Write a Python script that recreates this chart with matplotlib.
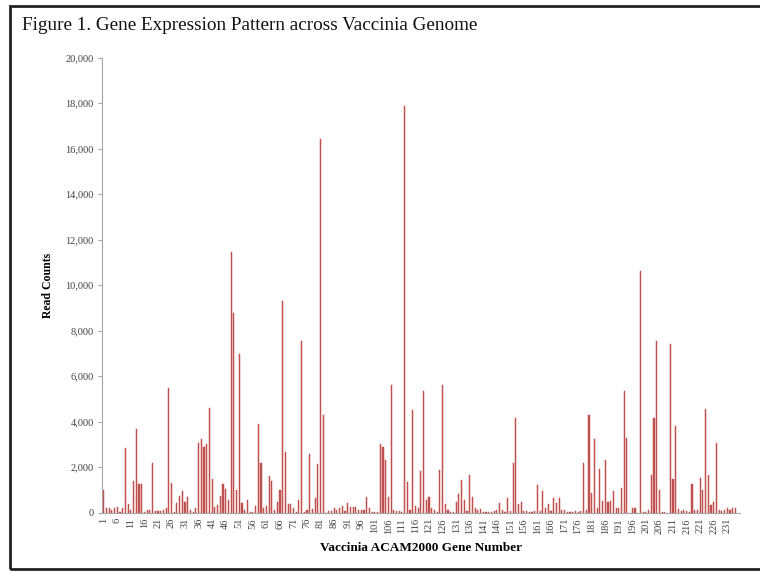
import numpy as np
import matplotlib
matplotlib.use('Agg')
import matplotlib.pyplot as plt
from matplotlib.patches import Rectangle
from matplotlib.ticker import FuncFormatter

plt.rcParams['font.family'] = ['Liberation Serif', 'DejaVu Serif']

# read counts per gene (genes 1..234)
counts_1_50 = [1000, 180, 200, 130, 190, 240, 30, 180, 2840, 370,
               130, 1370, 3690, 1250, 1250, 30, 130, 100, 2160, 60,
               60, 60, 100, 180, 5480, 1300, 30, 400, 730, 950,
               480, 670, 130, 30, 220, 3040, 3240, 2870, 3010, 4610,
               1490, 250, 310, 730, 1250, 1040, 550, 11450, 8780, 1000]
counts_51_100 = [6980, 400, 130, 550, 30, 30, 280, 3900, 2190, 220,
                 280, 1600, 1370, 130, 480, 1000, 9320, 2640, 370, 370,
                 200, 30, 550, 7530, 30, 130, 2570, 150, 630, 2150,
                 16440, 4310, 0, 75, 75, 180, 130, 220, 280, 75,
                 430, 250, 250, 250, 100, 130, 100, 670, 180, 30]
counts_101_150 = [20, 20, 3010, 2870, 2310, 670, 5600, 100, 60, 75,
                  30, 17860, 1330, 100, 4500, 280, 180, 1820, 5330, 550,
                  670, 180, 100, 30, 1850, 5600, 370, 100, 30, 30,
                  460, 800, 1450, 550, 60, 1670, 670, 220, 130, 150,
                  30, 20, 20, 30, 60, 130, 400, 100, 30, 630]
counts_151_200 = [60, 2190, 4160, 360, 480, 60, 60, 30, 30, 60,
                  1190, 60, 930, 180, 360, 60, 630, 400, 630, 100,
                  130, 30, 20, 30, 60, 30, 60, 2190, 100, 4280,
                  880, 3240, 220, 1930, 510, 2310, 480, 520, 950, 180,
                  180, 1070, 5360, 3270, 0, 180, 180, 0, 10640, 30]
counts_201_234 = [30, 100, 1640, 4160, 7530, 970, 30, 30, 0, 7430,
                  1490, 3790, 150, 60, 130, 60, 30, 1250, 100, 130,
                  1510, 1000, 4550, 1630, 330, 480, 3060, 100, 60, 100,
                  180, 130, 200, 200]

counts = counts_1_50 + counts_51_100 + counts_101_150 + counts_151_200 + counts_201_234
genes = np.arange(1, len(counts) + 1)
tick_genes = list(range(1, len(counts) + 1, 5))

fig = plt.figure(figsize=(7.6, 5.72), dpi=100)
ax = fig.add_axes([0.134, 0.104, 0.84, 0.795])

ax.bar(genes, counts, width=0.42, color='#C0504D', edgecolor='#C0504D', linewidth=0.35)

ax.set_xlim(0.3, 235.8)
ax.set_ylim(0, 20000)
ax.set_yticks(range(0, 20001, 2000))
ax.yaxis.set_major_formatter(FuncFormatter(lambda v, p: f'{int(v):,}'))
ax.set_xticks(tick_genes)
ax.set_xticklabels([str(g) for g in tick_genes], rotation=90)

for s in ['top', 'right']:
    ax.spines[s].set_visible(False)
for s in ['left', 'bottom']:
    ax.spines[s].set_color('#A6A6A6')
    ax.spines[s].set_linewidth(0.8)

ax.tick_params(axis='y', length=3, color='#A6A6A6', labelsize=7.5, labelcolor='#404040', pad=3)
ax.tick_params(axis='x', length=0, labelsize=7.5, labelcolor='#404040', pad=4)

ax.set_ylabel('Read Counts', fontsize=8.5, fontweight='bold', labelpad=8)
ax.set_xlabel('Vaccinia ACAM2000 Gene Number', fontsize=9.5, fontweight='bold', labelpad=6)

fig.text(22 / 760, 1 - 25 / 572, 'Figure 1. Gene Expression Pattern across Vaccinia Genome',
         fontsize=13.8, ha='left', va='center', color='#111111')

# outer frame
fig.add_artist(Rectangle((10 / 760, 3 / 572), 0.995, 563 / 572, transform=fig.transFigure,
                         fill=False, edgecolor='#222222', linewidth=2.0))

fig.savefig('out.png', dpi=100)
